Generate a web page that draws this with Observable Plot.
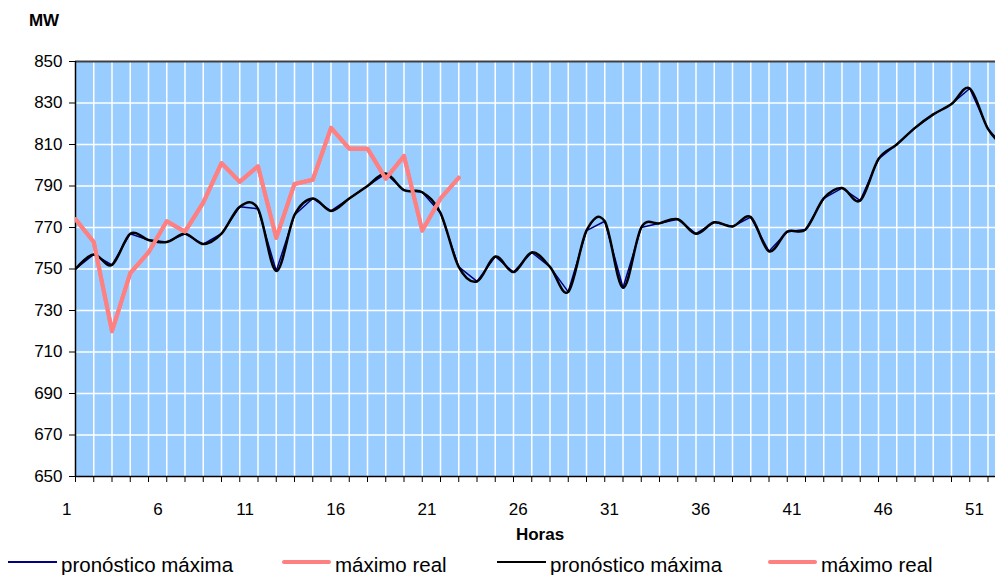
<!DOCTYPE html>
<html>
<head>
<meta charset="utf-8">
<script src="https://cdn.jsdelivr.net/npm/d3@7"></script>
<script src="https://cdn.jsdelivr.net/npm/@observablehq/plot@0.6"></script>
<style>
  body { margin: 0; background: #fff; }
  #wrap { position: relative; width: 995px; height: 575px; overflow: hidden;
          font-family: "Liberation Sans", Arial, sans-serif; color: #000; }
  #wrap svg { position: absolute; left: 0; top: 0; }
  .lbl { position: absolute; white-space: nowrap; }
  .bold { font-weight: bold; font-size: 17px; line-height: 17px; text-align: center; }
  .leg { position: absolute; font-size: 20.5px; line-height: 20px; white-space: nowrap; }
  .sw { position: absolute; }
</style>
</head>
<body>
<div id="wrap"></div>
<script>
// Hours (categories)
const hours = [1,2,3,4,5,6,7,8,9,10,11,12,13,14,15,16,17,18,19,20,21,22,23,24,25,26,
               27,28,29,30,31,32,33,34,35,36,37,38,39,40,41,42,43,44,45,46,47,48,49,50,51,52];
// pronóstico máxima (MW)
const forecast = [750,757,752,767,764,763,767,762,767,780,779,749,776,784,778,784,790,796,788,787,
                  777,751,744,756,748.5,758,751,739,768.5,773,741,770,772,774,767,772.5,770.5,775,758.5,768,
                  769,784,789,783,803,810,818,824.5,829.5,837,817.5,808];
// máximo real (MW)
const real = [774,763,720,748,758,773,768,782,801,792,799.5,765,791,793,818,808,808,793.5,804.5,768.5,784,794];

const yTicks = [650,670,690,710,730,750,770,790,810,830,850];
const yGrid = [670,690,710,730,750,770,790,810,830];
const xLabels = [1,6,11,16,21,26,31,36,41,46,51];

const forecastRows = hours.map((h, i) => ({hour: h, mw: forecast[i]}));
const realRows = real.map((v, i) => ({hour: hours[i], mw: v}));

const chartW = 995, chartH = 545;
const padLeft = 75, padTop = 61, axisBottom = 476;
const step = 18.25;
const xMax = 1 + (chartW - padLeft) / step;

const chart = Plot.plot({
  width: chartW,
  height: chartH,
  marginLeft: padLeft,
  marginRight: 0,
  marginTop: padTop,
  marginBottom: chartH - axisBottom,
  style: {fontFamily: "'Liberation Sans', Arial, sans-serif", fontSize: "17px", color: "#000", background: "transparent"},
  x: {domain: [1, xMax], axis: null},
  y: {domain: [650, 850], axis: null},
  marks: [
    Plot.frame({fill: "#99CCFF", stroke: "none"}),
    Plot.gridY(yGrid, {stroke: "#ffffff", strokeOpacity: 1, strokeWidth: 1.5}),
    Plot.gridX(hours.slice(1), {stroke: "#ffffff", strokeOpacity: 1, strokeWidth: 1.5}),
    Plot.ruleY([850], {stroke: "#404040", strokeWidth: 2}),
    Plot.ruleY([650], {stroke: "#000", strokeWidth: 1.5}),
    Plot.ruleX([1], {stroke: "#000", strokeWidth: 1.5}),
    Plot.axisY(yTicks, {tickSize: 6, tickPadding: 7, label: null, stroke: "#000", fill: "#000"}),
    Plot.axisX(hours, {tickSize: 6, tickFormat: () => "", label: null, stroke: "#000"}),
    Plot.axisX(xLabels, {tickSize: 0, tickPadding: 26, textAnchor: "end", dx: -4, label: null, fill: "#000"}),
    Plot.line(forecastRows, {x: "hour", y: "mw", stroke: "#000080", strokeWidth: 1.5, clip: true}),
    Plot.line(realRows, {x: "hour", y: "mw", stroke: "#FF8080", strokeWidth: 4, strokeLinejoin: "round", clip: true}),
    Plot.line(forecastRows, {x: "hour", y: "mw", curve: "cardinal", stroke: "#000", strokeWidth: 2.5, clip: true}),
    Plot.line(realRows, {x: "hour", y: "mw", stroke: "#FF8080", strokeWidth: 4, strokeLinejoin: "round", clip: true})
  ]
});

const wrap = document.getElementById("wrap");
wrap.appendChild(chart);

function addDiv(cls, text, styles) {
  const d = document.createElement("div");
  d.className = cls;
  d.textContent = text;
  Object.assign(d.style, styles);
  wrap.appendChild(d);
  return d;
}

addDiv("lbl bold", "MW", {left: "14px", width: "60px", top: "12px"});
addDiv("lbl bold", "Horas", {left: "490px", width: "100px", top: "526px"});

const legendItems = [
  {label: "pronóstico máxima", color: "#000080", lw: 2, x: 8},
  {label: "máximo real", color: "#FF8080", lw: 4, x: 282},
  {label: "pronóstico máxima", color: "#000000", lw: 2, x: 497},
  {label: "máximo real", color: "#FF8080", lw: 4, x: 768}
];
legendItems.forEach(it => {
  const s = document.createElement("div");
  s.className = "sw";
  Object.assign(s.style, {left: it.x + "px", top: (561.5 - it.lw / 2) + "px", width: "49px",
    height: it.lw + "px", background: it.color, borderRadius: it.lw > 2 ? "2px" : "0"});
  wrap.appendChild(s);
  addDiv("leg", it.label, {left: (it.x + 53) + "px", top: "555px"});
});
</script>
</body>
</html>
